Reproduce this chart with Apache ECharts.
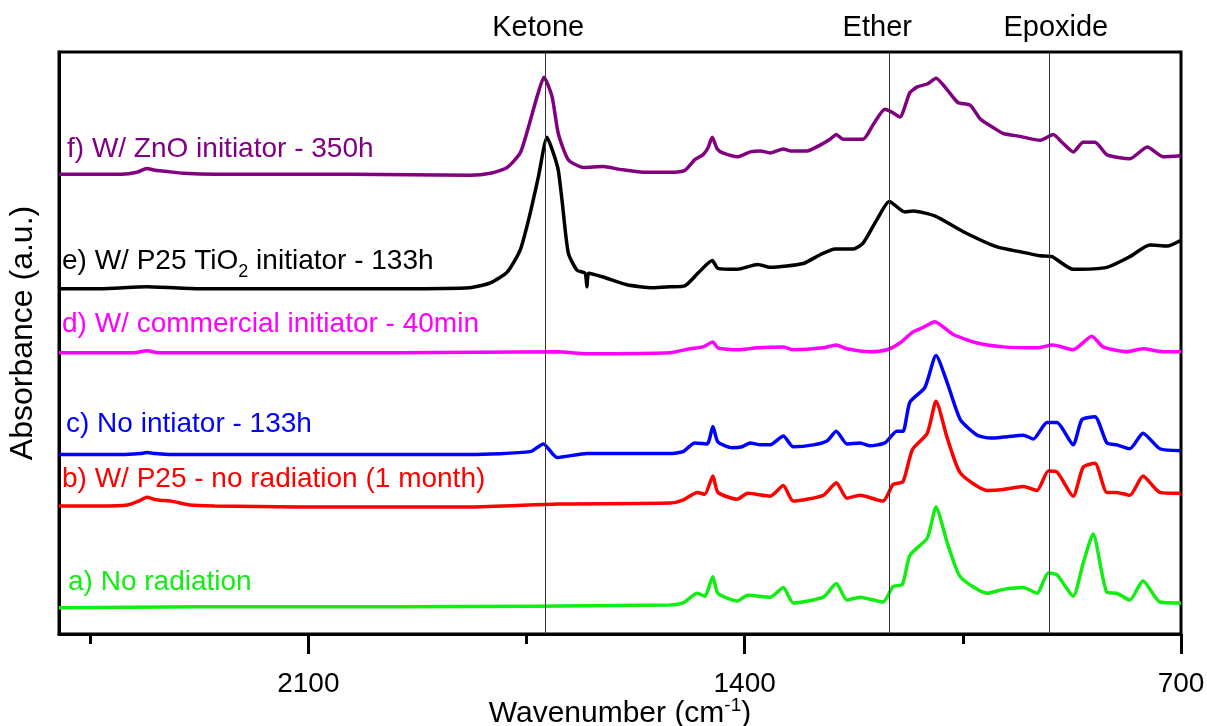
<!DOCTYPE html>
<html>
<head>
  <meta charset="utf-8">
  <title>FTIR spectra</title>
  <script src="https://cdn.jsdelivr.net/npm/echarts@6/dist/echarts.min.js"></script>
  <style>
    html, body { margin: 0; padding: 0; background: #fff; }
    #main { width: 1207px; height: 726px; }
  </style>
</head>
<body>
<div id="main"></div>
<script>
  // axis ticks (wavenumber, cm-1)
  const majorTicks = [700, 1400, 2100];
  const minorTicks = [1050, 1750, 2450];

  // band markers
  const refNames = ['Ketone', 'Ether', 'Epoxide'];
  const refWavenumbers = [1720, 1168, 912];

  const labelTexts = [
    'f) W/ ZnO initiator - 350h',
    'e) W/ P25 TiO{sub|2} initiator - 133h',
    'd) W/ commercial initiator - 40min',
    'c) No intiator - 133h',
    'b) W/ P25 - no radiation (1 month)',
    'a) No radiation'
  ];

  // spectra, [wavenumber, absorbance (a.u., stacked)]
  const specF = [[2500,4.74],[2434,4.74],[2400,4.74],[2375,4.76],[2359,4.80],[2346,4.78],[2330,4.77],[2300,4.75],[2250,4.74],[2194,4.74],[2033,4.74],[1841,4.73],[1808,4.75],[1781,4.81],[1760,4.96],[1748,5.20],[1733,5.54],[1722,5.74],[1709,5.54],[1699,5.16],[1683,4.89],[1659,4.81],[1627,4.82],[1600,4.79],[1563,4.76],[1520,4.76],[1496,4.78],[1480,4.89],[1467,4.94],[1459,5.01],[1452,5.12],[1444,5.00],[1435,4.96],[1411,4.92],[1391,4.97],[1375,4.98],[1359,4.96],[1338,5.00],[1327,4.98],[1300,4.98],[1279,5.04],[1263,5.10],[1253,5.15],[1242,5.10],[1210,5.10],[1194,5.25],[1175,5.41],[1164,5.38],[1151,5.33],[1135,5.58],[1123,5.64],[1107,5.67],[1093,5.73],[1075,5.61],[1058,5.48],[1038,5.45],[1022,5.31],[1001,5.22],[985,5.16],[958,5.13],[926,5.09],[905,5.15],[891,5.07],[873,4.97],[857,5.07],[838,5.07],[819,4.94],[798,4.91],[782,4.90],[754,5.02],[729,4.92],[700,4.93]];
  const specE = [[2500,3.56],[2434,3.56],[2359,3.58],[2274,3.56],[2113,3.56],[1953,3.56],[1841,3.57],[1808,3.62],[1781,3.73],[1760,3.96],[1744,4.34],[1731,4.71],[1717,5.12],[1707,4.96],[1699,4.78],[1693,4.47],[1683,3.93],[1669,3.75],[1656,3.72],[1653,3.58],[1650,3.72],[1627,3.68],[1589,3.60],[1547,3.57],[1520,3.58],[1496,3.59],[1475,3.72],[1452,3.85],[1443,3.77],[1412,3.76],[1379,3.81],[1359,3.78],[1306,3.82],[1279,3.91],[1255,3.97],[1226,3.97],[1210,4.03],[1188,4.27],[1168,4.46],[1143,4.35],[1130,4.36],[1095,4.31],[1050,4.15],[995,3.99],[958,3.94],[926,3.90],[907,3.89],[873,3.76],[819,3.78],[782,3.89],[750,4.01],[722,4.00],[700,4.06]];
  const specD = [[2500,2.90],[2380,2.90],[2359,2.92],[2340,2.90],[2194,2.90],[1953,2.90],[1701,2.91],[1653,2.89],[1520,2.90],[1488,2.94],[1467,2.96],[1451,3.01],[1443,2.95],[1412,2.93],[1380,2.95],[1338,2.96],[1322,2.93],[1274,2.95],[1253,2.98],[1236,2.94],[1199,2.91],[1172,2.93],[1151,3.00],[1131,3.11],[1114,3.16],[1095,3.22],[1066,3.09],[1027,3.00],[985,2.96],[931,2.95],[905,2.98],[873,2.93],[843,3.07],[825,2.96],[787,2.91],[761,2.94],[729,2.91],[700,2.91]];
  const specC = [[2500,1.85],[2400,1.85],[2370,1.86],[2359,1.87],[2345,1.86],[2320,1.85],[2113,1.85],[1841,1.85],[1744,1.88],[1723,1.96],[1701,1.82],[1653,1.86],[1520,1.86],[1499,1.88],[1480,1.97],[1460,1.96],[1451,2.14],[1443,1.98],[1420,1.92],[1404,1.93],[1391,1.97],[1375,1.95],[1359,1.95],[1338,2.04],[1322,1.93],[1290,1.95],[1268,1.99],[1253,2.09],[1236,1.96],[1215,1.97],[1199,1.94],[1175,1.97],[1156,2.09],[1146,2.09],[1135,2.39],[1111,2.54],[1093,2.87],[1075,2.59],[1054,2.21],[1027,2.05],[1006,2.02],[985,2.03],[953,2.05],[937,2.01],[915,2.18],[899,2.18],[873,1.95],[859,2.21],[838,2.24],[819,1.97],[803,1.95],[782,1.91],[761,2.07],[734,1.91],[700,1.89]];
  const specB = [[2500,1.32],[2434,1.32],[2390,1.33],[2372,1.37],[2359,1.41],[2348,1.39],[2338,1.38],[2320,1.37],[2290,1.33],[2250,1.32],[2113,1.31],[1841,1.31],[1701,1.34],[1520,1.35],[1499,1.38],[1476,1.46],[1464,1.44],[1451,1.63],[1443,1.46],[1412,1.39],[1395,1.45],[1359,1.42],[1338,1.53],[1322,1.37],[1274,1.43],[1253,1.56],[1236,1.40],[1215,1.43],[1178,1.37],[1162,1.54],[1146,1.57],[1131,1.90],[1107,2.07],[1093,2.40],[1075,2.02],[1054,1.66],[1011,1.48],[985,1.49],[953,1.52],[931,1.48],[913,1.68],[899,1.67],[873,1.42],[857,1.72],[838,1.76],[819,1.46],[803,1.46],[782,1.43],[761,1.63],[734,1.46],[700,1.45]];
  const specA = [[2500,0.27],[2274,0.28],[1953,0.28],[1520,0.30],[1499,0.32],[1476,0.42],[1464,0.39],[1451,0.59],[1443,0.42],[1412,0.34],[1395,0.40],[1359,0.38],[1338,0.48],[1322,0.32],[1274,0.38],[1253,0.52],[1236,0.35],[1215,0.38],[1178,0.33],[1162,0.49],[1147,0.51],[1135,0.81],[1107,0.99],[1093,1.31],[1075,0.94],[1054,0.59],[1011,0.42],[985,0.46],[953,0.48],[931,0.42],[913,0.63],[899,0.61],[873,0.39],[857,0.73],[841,1.03],[819,0.43],[803,0.42],[782,0.35],[761,0.55],[734,0.33],[700,0.32]];

  const spectra = [specF, specE, specD, specC, specB, specA];
  const colors = ['#800080', '#000000', '#ff00ff', '#0000ff', '#ff0000', '#11ee11'];
  const labelOffsets = [[3, -25], [-2, -27], [-2, -28], [2, -30], [-2, -27], [4, -26]];
  const refPads = [[0, 14, 0, 0], [0, 24, 0, 0], [0, 0, 0, 14]];

  const font = '"Liberation Sans", Arial, sans-serif';

  var myChart = echarts.init(document.getElementById('main'));

  const series = spectra.map(function (spec, i) {
    return {
      type: 'line',
      data: spec,
      showSymbol: false,
      smooth: 0.2,
      silent: true,
      lineStyle: { color: colors[i], width: 3.5 },
      itemStyle: { color: colors[i] },
      markPoint: {
        symbol: 'circle',
        symbolSize: 0,
        silent: true,
        data: [{ coord: spec[0] }],
        label: {
          show: true,
          position: 'right',
          distance: 5,
          offset: labelOffsets[i],
          formatter: labelTexts[i],
          color: colors[i],
          fontSize: 28,
          fontFamily: font,
          rich: {
            sub: { fontSize: 18, color: colors[i], fontFamily: font, padding: [20, 0, 0, 0] }
          }
        }
      }
    };
  });

  series[5].markLine = {
    silent: true,
    symbol: 'none',
    animation: false,
    lineStyle: { color: '#333', width: 1, type: 'solid' },
    label: {
      show: true,
      position: 'end',
      distance: 10,
      formatter: '{b}',
      color: '#000',
      fontSize: 29,
      fontFamily: font
    },
    data: refWavenumbers.map(function (w, i) {
      return { xAxis: w, name: refNames[i], label: { padding: refPads[i] } };
    })
  };

  var option = {
    animation: false,
    grid: {
      left: 59,
      right: 26,
      top: 52,
      bottom: 92,
      outerBoundsMode: 'none',
      containLabel: false,
      show: true,
      borderColor: '#000',
      borderWidth: 3,
      backgroundColor: 'transparent'
    },
    xAxis: [
      {
        type: 'value',
        min: 700,
        max: 2500,
        interval: 700,
        inverse: true,
        position: 'bottom',
        name: 'Wavenumber (cm{sup|-1})',
        nameLocation: 'middle',
        nameGap: 62,
        nameMoveOverlap: false,
        nameTextStyle: {
          fontSize: 30,
          color: '#000',
          fontFamily: font,
          rich: { sup: { fontSize: 19, color: '#000', fontFamily: font, padding: [0, 0, 16, 0] } }
        },
        axisLine: { show: true, onZero: false, lineStyle: { color: '#000', width: 3 } },
        axisTick: { show: true, length: 20, lineStyle: { color: '#000', width: 3 }, customValues: majorTicks },
        axisLabel: {
          show: true, margin: 36, fontSize: 28, color: '#000', fontFamily: font,
          customValues: majorTicks,
          formatter: function (v) { return String(v); }
        },
        splitLine: { show: false }
      },
      {
        type: 'value',
        min: 700,
        max: 2500,
        interval: 350,
        inverse: true,
        position: 'bottom',
        axisLine: { show: false },
        axisTick: { show: true, length: 10, lineStyle: { color: '#000', width: 3 }, customValues: minorTicks },
        axisLabel: { show: false },
        splitLine: { show: false }
      }
    ],
    yAxis: {
      type: 'value',
      min: 0,
      max: 6,
      name: 'Absorbance (a.u.)',
      nameLocation: 'middle',
      nameGap: 20,
      nameMoveOverlap: false,
      nameTextStyle: { fontSize: 32, color: '#000', fontFamily: font, padding: [0, 0, 0, 20] },
      axisLine: { show: true, lineStyle: { color: '#000', width: 3 } },
      axisTick: { show: false },
      axisLabel: { show: false },
      splitLine: { show: false }
    },
    series: series
  };

  myChart.setOption(option);
</script>
</body>
</html>
